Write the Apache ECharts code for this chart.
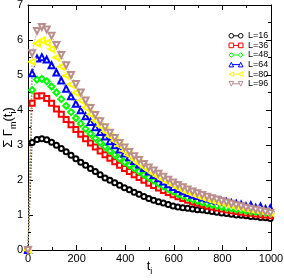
<!DOCTYPE html>
<html><head><meta charset="utf-8">
<script src="https://cdn.jsdelivr.net/npm/echarts@6/dist/echarts.min.js"></script>
<style>html,body{margin:0;padding:0;background:#fff}#c{width:284px;height:280px}</style>
</head><body><div id="c"></div>
<script>
const tValues = [0,17,37,57,77,97,117,137,157,177,197,217,237,257,277,297,317,337,357,377,397,417,437,457,477,497,517,537,557,577,597,617,637,657,677,697,717,737,757,777,797,817,837,857,877,897,917,937,957,977,997];
const L16 = [0,3.07,3.16,3.18,3.15,3.08,2.99,2.90,2.81,2.71,2.61,2.51,2.42,2.33,2.24,2.15,2.06,1.99,1.92,1.85,1.78,1.72,1.65,1.59,1.53,1.47,1.42,1.38,1.34,1.30,1.26,1.23,1.21,1.19,1.17,1.15,1.14,1.12,1.10,1.08,1.06,1.04,1.02,1.00,0.99,0.98,0.96,0.95,0.93,0.92,0.90];
const L36 = [0,4.19,4.40,4.41,4.33,4.19,4.03,3.88,3.73,3.58,3.44,3.31,3.18,3.06,2.94,2.83,2.72,2.62,2.52,2.42,2.33,2.24,2.15,2.07,1.99,1.91,1.84,1.77,1.70,1.64,1.58,1.52,1.47,1.42,1.38,1.34,1.30,1.26,1.23,1.20,1.17,1.14,1.12,1.10,1.08,1.06,1.05,1.03,1.01,1.00,0.98];
const L48 = [0,4.57,4.87,4.89,4.82,4.67,4.50,4.31,4.12,3.94,3.77,3.61,3.46,3.32,3.19,3.07,2.95,2.83,2.72,2.61,2.51,2.42,2.33,2.24,2.15,2.07,1.98,1.90,1.82,1.74,1.67,1.60,1.54,1.49,1.44,1.40,1.36,1.32,1.29,1.26,1.23,1.20,1.18,1.16,1.14,1.12,1.10,1.09,1.07,1.06,1.05];
const L64 = [0,5.05,5.47,5.51,5.44,5.28,5.07,4.84,4.61,4.39,4.18,3.99,3.82,3.66,3.51,3.37,3.24,3.11,2.99,2.87,2.76,2.65,2.54,2.44,2.34,2.24,2.14,2.05,1.96,1.88,1.80,1.74,1.68,1.63,1.58,1.54,1.50,1.47,1.44,1.41,1.39,1.37,1.34,1.32,1.30,1.25,1.28,1.21,1.24,1.17,1.19];
const L80 = [0,5.38,5.90,5.99,5.92,5.74,5.50,5.24,4.98,4.73,4.49,4.27,4.07,3.88,3.70,3.54,3.39,3.25,3.12,2.98,2.83,2.70,2.58,2.47,2.37,2.27,2.18,2.09,2.01,1.93,1.85,1.78,1.71,1.65,1.60,1.55,1.50,1.46,1.42,1.38,1.35,1.31,1.28,1.25,1.22,1.19,1.16,1.14,1.12,1.10,1.07];
const L96 = [0,5.62,6.26,6.37,6.30,6.12,5.86,5.57,5.28,5.00,4.74,4.50,4.27,4.06,3.86,3.68,3.51,3.35,3.20,3.06,2.93,2.80,2.68,2.57,2.46,2.36,2.27,2.18,2.09,2.01,1.93,1.86,1.79,1.73,1.67,1.62,1.57,1.52,1.48,1.44,1.40,1.36,1.32,1.28,1.25,1.21,1.18,1.15,1.12,1.09,1.06];
const seriesNames = ['L=16','L=36','L=48','L=64','L=80','L=96'];
const xTicks = [0,200,400,600,800,1000];
const yTicks = [0,1,2,3,4,5,6,7];

const FONT = 'Liberation Sans, Arial, sans-serif';
const colors = ['#000000','#ff0000','#00ff00','#0000ff','#ffff00','#bc8f8f'];
const symbols = ['emptyCircle','emptyRect','emptyDiamond','emptyTriangle','emptyTriangle','emptyTriangle'];
const rotates = [0,0,0,0,90,180];
const sizes = [5,5,6,6,6,6];
const icons = [
  'path://M0.3,2.5A2.2,2.2,0,1,1,4.7,2.5A2.2,2.2,0,1,1,0.3,2.5ZM4.7,2.5L9.3,2.5M9.3,2.5A2.2,2.2,0,1,1,13.7,2.5A2.2,2.2,0,1,1,9.3,2.5Z',
  'path://M0.3,0.3L4.7,0.3L4.7,4.7L0.3,4.7ZM4.7,2.5L9.3,2.5M9.3,0.3L13.7,0.3L13.7,4.7L9.3,4.7Z',
  'path://M2.5,0.3L4.7,2.5L2.5,4.7L0.3,2.5ZM4.7,2.5L9.3,2.5M11.5,0.3L13.7,2.5L11.5,4.7L9.3,2.5Z',
  'path://M2.5,0.3L4.7,4.7L0.3,4.7ZM3.6,2.5L10.4,2.5M11.5,0.3L13.7,4.7L9.3,4.7Z',
  'path://M0.3,2.5L4.7,0.3L4.7,4.7ZM4.7,2.5L9.3,2.5M9.3,2.5L13.7,0.3L13.7,4.7Z',
  'path://M0.3,0.3L4.7,0.3L2.5,4.7ZM3.6,2.5L10.4,2.5M9.3,0.3L13.7,0.3L11.5,4.7Z'
];
const allData = [L16,L36,L48,L64,L80,L96];

const chart = echarts.init(document.getElementById('c'), null, {renderer:'canvas'});
const axisCommon = {
  min: 0,
  axisLine: {show: true, onZero: false, lineStyle: {color: '#000', width: 1}},
  axisTick: {show: true, inside: true, length: 5, lineStyle: {color: '#000'}},
  minorTick: {show: true, splitNumber: 2, length: 3, lineStyle: {color: '#000'}},
  splitLine: {show: false}
};
const option = {
  animation: false,
  backgroundColor: '#fff',
  grid: {left: 28, right: 13, top: 5, bottom: 30, containLabel: false, outerBoundsMode: 'none'},
  xAxis: [
    Object.assign({}, axisCommon, {
      type: 'value', position: 'bottom', max: 1000, interval: 200,
      axisLabel: {fontSize: 11, color: '#000', fontFamily: FONT, margin: 3,
        formatter: v => xTicks.includes(v) ? String(v) : ''},
      name: '{t|t}{s|i}', nameLocation: 'middle', nameGap: 10, nameMoveOverlap: false,
      nameTextStyle: {rich: {
        t: {fontSize: 13, fontFamily: FONT, color: '#000', lineHeight: 14, verticalAlign: 'top'},
        s: {fontSize: 9, fontFamily: FONT, color: '#000', lineHeight: 10, padding: [7,0,0,0], verticalAlign: 'top'}
      }}
    }),
    Object.assign({}, axisCommon, {
      type: 'value', position: 'top', max: 1000, interval: 200, axisLabel: {show: false}
    })
  ],
  yAxis: [
    Object.assign({}, axisCommon, {
      type: 'value', position: 'left', max: 7, interval: 1,
      axisLabel: {fontSize: 11, color: '#000', fontFamily: FONT, margin: 5,
        formatter: v => yTicks.includes(v) ? String(v) : ''},
      name: '{a|Σ Γ}{s|m}{a|(t}{s|i}{a|)}', nameLocation: 'middle', nameGap: 12, nameRotate: 90, nameMoveOverlap: false,
      nameTextStyle: {rich: {
        a: {fontSize: 13, fontFamily: FONT, color: '#000', lineHeight: 14, verticalAlign: 'top'},
        s: {fontSize: 9, fontFamily: FONT, color: '#000', lineHeight: 10, padding: [7,0,0,0], verticalAlign: 'top'}
      }}
    }),
    Object.assign({}, axisCommon, {
      type: 'value', position: 'right', max: 7, interval: 1, axisLabel: {show: false}
    })
  ],
  legend: {
    orient: 'vertical', left: 221.5, top: 26,
    itemWidth: 14, itemHeight: 5, itemGap: 0,
    itemStyle: {color: 'none', borderWidth: 1},
    textStyle: {fontSize: 9, fontFamily: FONT, color: '#000', lineHeight: 9.6},
    data: seriesNames.map((n, i) => ({
      name: n, icon: icons[i],
      itemStyle: {color: 'none', borderColor: colors[i], borderWidth: 1}
    }))
  },
  series: allData.map((arr, i) => ({
    name: seriesNames[i],
    type: 'line',
    xAxisIndex: 0, yAxisIndex: 0,
    data: tValues.map((t, k) => [t, arr[k]]),
    symbol: symbols[i], symbolSize: sizes[i], symbolRotate: rotates[i],
    showAllSymbol: true,
    clip: false,
    color: colors[i],
    itemStyle: {color: colors[i], borderWidth: 1},
    lineStyle: {color: colors[i], width: 0.8, type: [1.5, 1.5]}
  }))
};
chart.setOption(option);
</script>
</body></html>
